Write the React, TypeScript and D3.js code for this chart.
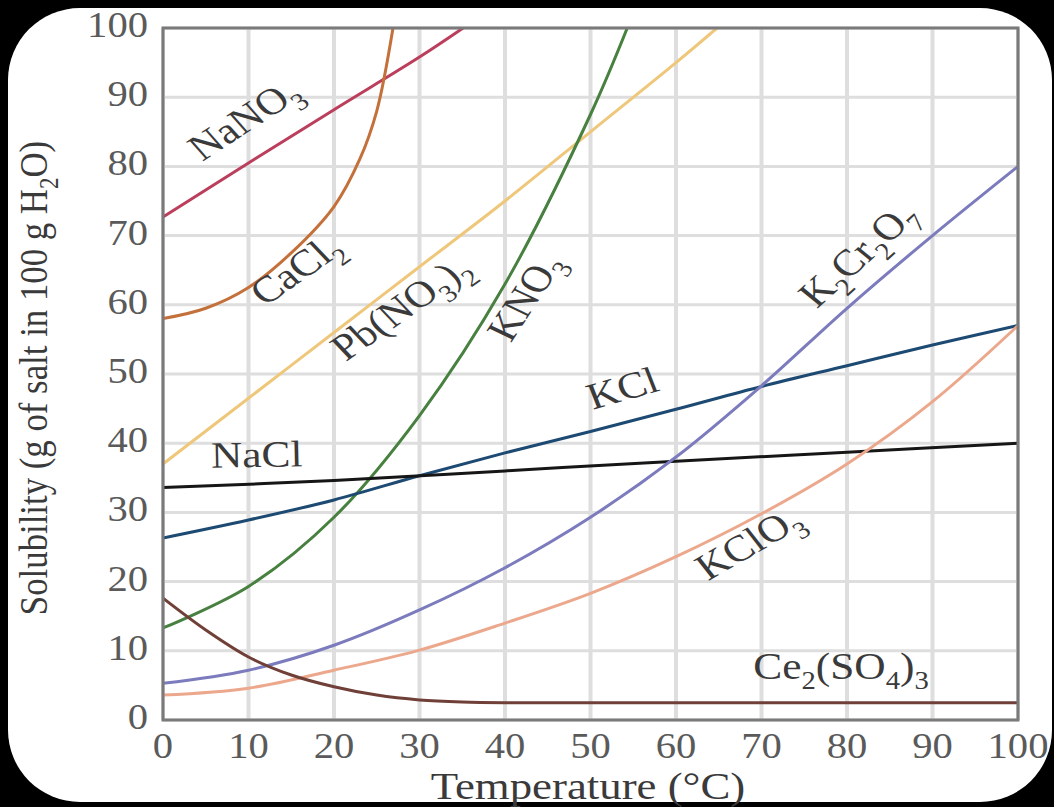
import React from "react";
import * as d3 from "d3";

const W = 1054;
const H = 807;
const plot = { left: 163, top: 28, right: 1018, bottom: 720 };

// the reference looks stretched, so text is stretched the same way
const SX = 1.4;
const SY = 1.2;

const xTicks = [0, 10, 20, 30, 40, 50, 60, 70, 80, 90, 100];
const yTicks = [0, 10, 20, 30, 40, 50, 60, 70, 80, 90, 100];

// [temperature °C, g per 100 g water]
const naNO3 = [[0, 72.7], [10, 80.5], [20, 88.2], [30, 95.8], [35.1, 100]];
const caCl2 = [[0, 58], [5, 59.5], [10, 62.5], [15, 67.5], [20, 74.2], [23, 81], [25, 88], [26.9, 100]];
const pbNO32 = [[0, 37], [10, 46.5], [20, 56], [30, 65.5], [40, 75], [50, 85], [60, 95], [64.8, 100]];
const kNO3 = [[0, 13.3], [10, 19.3], [20, 29.3], [30, 44], [40, 63], [50, 87.5], [54.3, 100]];
const kCl = [[0, 26.3], [10, 28.9], [20, 31.8], [30, 35.3], [40, 38.6], [50, 41.7], [60, 44.9], [70, 48.2], [80, 51.2], [90, 54.2], [100, 57]];
const naCl = [[0, 33.6], [20, 34.6], [40, 36], [60, 37.4], [80, 38.7], [100, 40]];
const k2Cr2O7 = [[0, 5.3], [10, 7.2], [20, 10.8], [30, 15.9], [40, 22], [50, 29.3], [60, 38], [70, 48.3], [80, 59.5], [90, 70], [100, 80]];
const kClO3 = [[0, 3.6], [10, 4.6], [20, 7.2], [30, 10.1], [40, 14], [50, 18.3], [60, 23.6], [70, 29.8], [80, 37], [90, 46], [100, 57]];
const ce2SO43 = [[0, 17.6], [5, 13], [10, 9.1], [15, 6.5], [20, 4.8], [25, 3.6], [30, 2.9], [35, 2.6], [40, 2.5], [70, 2.5], [100, 2.5]];

const series = [
  { data: naNO3, color: "#bb3f5c" },
  { data: caCl2, color: "#c4703a" },
  { data: pbNO32, color: "#efc77a" },
  { data: kNO3, color: "#47803f" },
  { data: kCl, color: "#1d4a72" },
  { data: naCl, color: "#161616" },
  { data: k2Cr2O7, color: "#7b7bbd" },
  { data: kClO3, color: "#eca88c" },
  { data: ce2SO43, color: "#704038" },
];

// label text ("_n" = subscript), screen position and screen angle
const labels = [
  { text: "NaNO_3", x: 253, y: 129, angle: -33 },
  { text: "CaCl_2", x: 305, y: 279, angle: -35 },
  { text: "Pb(NO_3)_2", x: 410, y: 317, angle: -35 },
  { text: "KNO_3", x: 537, y: 303, angle: -57 },
  { text: "KCl", x: 627, y: 400, angle: -16 },
  { text: "NaCl", x: 257, y: 467, angle: -1 },
  { text: "K_2Cr_2O_7", x: 868, y: 263, angle: -42 },
  { text: "KClO_3", x: 757, y: 553, angle: -30 },
  { text: "Ce_2(SO_4)_3", x: 841, y: 679, angle: 0 },
];

const x = d3.scaleLinear().domain([0, 100]).range([plot.left, plot.right]);
const y = d3.scaleLinear().domain([0, 100]).range([plot.bottom, plot.top]);

const line = d3
  .line<number[]>()
  .x((d) => x(d[0]))
  .y((d) => y(d[1]))
  .curve(d3.curveCatmullRom.alpha(0.5));

function stretchAngle(a: number) {
  const r = (a * Math.PI) / 180;
  if (Math.abs(Math.cos(r)) < 1e-6) return a;
  return (Math.atan((SX / SY) * Math.tan(r)) * 180) / Math.PI;
}

function chem(s: string, fs: number) {
  const parts = s.split(/_(\d)/);
  const shift = fs * 0.28;
  const out: any[] = [];
  let down = false;
  parts.forEach((p, i) => {
    if (i % 2 === 1) {
      out.push(
        <tspan key={i} fontSize={fs * 0.66} dy={down ? 0 : shift}>
          {p}
        </tspan>
      );
      down = true;
    } else if (p) {
      out.push(
        <tspan key={i} dy={down ? -shift : 0}>
          {p}
        </tspan>
      );
      down = false;
    }
  });
  return out;
}

function Txt({ x, y, angle = 0, fs, anchor = "middle", fill = "#3a3a3a", dy = "0", children }: any) {
  return (
    <text
      transform={`translate(${x},${y}) scale(${SX},${SY}) rotate(${stretchAngle(angle)})`}
      fontSize={fs}
      textAnchor={anchor}
      fill={fill}
      dy={dy}
    >
      {children}
    </text>
  );
}

export default function App() {
  const font = "'Liberation Serif', 'Times New Roman', serif";
  return (
    <svg
      width={W}
      height={H}
      style={{ position: "absolute", left: 0, top: 0, background: "#000" }}
      fontFamily={font}
    >
      <defs>
        <clipPath id="plotClip">
          <rect x={plot.left} y={plot.top} width={plot.right - plot.left} height={plot.bottom - plot.top} />
        </clipPath>
      </defs>
      <rect x={0} y={0} width={W} height={H} fill="#000" />
      <rect x={8} y={8} width={1044} height={794} rx={72} ry={72} fill="#fff" />

      {/* grid */}
      {xTicks.map((t) => (
        <line key={"gx" + t} x1={x(t)} x2={x(t)} y1={plot.top} y2={plot.bottom} stroke="#dedede" strokeWidth={4} />
      ))}
      {yTicks.map((t) => (
        <line key={"gy" + t} x1={plot.left} x2={plot.right} y1={y(t)} y2={y(t)} stroke="#dedede" strokeWidth={3} />
      ))}

      {/* curves */}
      <g clipPath="url(#plotClip)">
        {series.map((s, i) => (
          <path key={i} d={line(s.data) || ""} fill="none" stroke={s.color} strokeWidth={3} strokeLinecap="round" />
        ))}
      </g>

      {/* frame */}
      <rect
        x={plot.left}
        y={plot.top}
        width={plot.right - plot.left}
        height={plot.bottom - plot.top}
        fill="none"
        stroke="#7a7a7a"
        strokeWidth={3}
      />

      {/* tick labels */}
      {xTicks.map((t) => (
        <Txt key={"tx" + t} x={x(t)} y={758} fs={29} fill="#5a5a5a">
          {t}
        </Txt>
      ))}
      {yTicks.map((t) => (
        <Txt key={"ty" + t} x={148} y={y(t) + 9} fs={29} anchor="end" fill="#5a5a5a">
          {t}
        </Txt>
      ))}

      {/* curve labels */}
      {labels.map((l) => (
        <Txt key={l.text} x={l.x} y={l.y} angle={l.angle} fs={31} dy="0.35em">
          {chem(l.text, 31)}
        </Txt>
      ))}

      {/* axis titles */}
      <Txt x={588} y={799} fs={32}>
        Temperature (°C)
      </Txt>
      <Txt x={47} y={378} angle={-90} fs={29}>
        {chem("Solubility (g of salt in 100 g H_2O)", 29)}
      </Txt>
    </svg>
  );
}
